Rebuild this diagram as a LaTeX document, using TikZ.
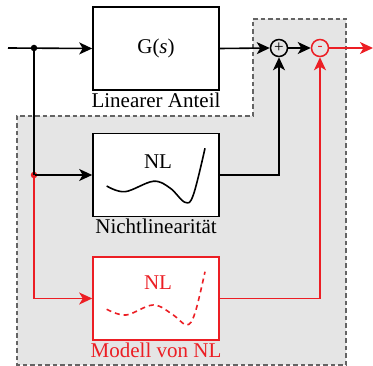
\documentclass[tikz,border=0pt]{standalone}
\usepackage{fontspec}
\setmainfont{Liberation Serif}
\usetikzlibrary{arrows.meta}
\definecolor{myred}{RGB}{236,30,36}
\definecolor{regfill}{RGB}{229,229,229}
\definecolor{regdraw}{RGB}{100,100,100}
\tikzset{
  blk/.style={draw, line width=1.6pt, fill=white, minimum width=126pt, minimum height=83pt, inner sep=0pt},
  lbl/.style={font=\fontsize{21}{24}\selectfont, inner sep=0pt},
  sumc/.style={draw, circle, line width=1.5pt, fill=regfill, minimum size=17pt, inner sep=0pt},
  conn/.style={line width=1.6pt},
  arr/.style={conn, -{Stealth[length=13pt,width=12pt,inset=3.5pt]}},
  dotc/.style={circle, fill, inner sep=0pt, minimum size=6.5pt}
}
\begin{document}
\begin{tikzpicture}[x=1pt,y=-1pt]
\useasboundingbox (0,0) rectangle (373,366);
% region
\draw[fill=regfill, draw=regdraw, line width=1.5pt, dash pattern=on 4.5pt off 3pt]
  (253,19) -- (346,19) -- (346,365) -- (17,365) -- (17,116) -- (253,116) -- cycle;
% blocks
\node[blk] (G) at (156,48.5) {};
\node[lbl] (Gt) at (156,48) {G(\textit{s})};
\node[lbl, anchor=north] (Gl) at (156,93) {Linearer Anteil};
\node[blk] (NL) at (156,175) {};
\node[lbl] (NLt) at (158,162) {NL};
\node[lbl, anchor=north] (NLl) at (156,219) {Nichtlinearität};
\node[blk, draw=myred] (M) at (156,298.5) {};
\node[lbl, text=myred] (Mt) at (158,283) {NL};
\node[lbl, anchor=north, text=myred] (Ml) at (156,343) {Modell von NL};
% curves
\draw[line width=1.6pt] plot[smooth, tension=0.6] coordinates {(106.7,186) (125,191.7) (153.3,181.3) (170,188) (185,202.3) (193.3,195) (205,148.3)};
\draw[line width=1.6pt, myred, dash pattern=on 5pt off 4pt] plot[smooth, tension=0.6] coordinates {(106.7,309.3) (126,315) (153.3,305) (173.3,315) (186.7,325) (195,313) (205,271.7)};
% summation circles
\node[sumc] (S1) at (279,48) {\fontsize{17}{17}\selectfont +};
\node[sumc, draw=myred, text=myred] (S2) at (320,48) {\fontsize{15}{15}\selectfont -};
% connectors
\coordinate (in) at (8,48);
\coordinate (out) at (373,48);
\node[dotc] (j1) at (34,48) {};
\node[dotc, myred] (j2) at (34,175) {};
\draw[arr] (in) -- (G.west);
\draw[conn] (j1.center) -- (j2.center);
\draw[arr] (j2.center) -- (NL.west);
\draw[arr, myred] (j2.center) |- (M.west);
\draw[arr] (G.east) -- (S1.west);
\draw[arr] (NL.east) -| (S1.south);
\draw[arr] (S1.east) -- (S2.west);
\draw[arr, myred] (M.east) -| (S2.south);
\draw[arr, myred] (S2.east) -- (out);
\end{tikzpicture}
\end{document}
